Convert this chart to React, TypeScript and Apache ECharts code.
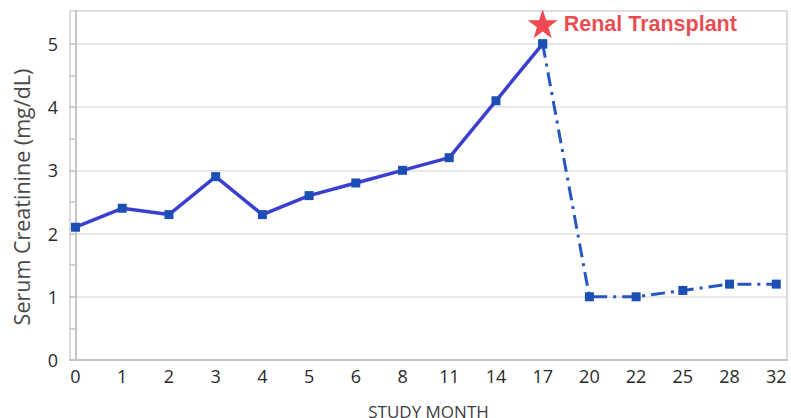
import React, { useEffect, useRef } from "react";
import * as echarts from "echarts";

const months = ["0", "1", "2", "3", "4", "5", "6", "8", "11", "14", "17", "20", "22", "25", "28", "32"];
const creatinine = [2.1, 2.4, 2.3, 2.9, 2.3, 2.6, 2.8, 3.0, 3.2, 4.1, 5.0, 1.0, 1.0, 1.1, 1.2, 1.2];
const transplantIndex = 10; // month 17
const transplantMarkerValue = 5.32;
const transplantLabel = "Renal Transplant";
const yTitle = "Serum Creatinine (mg/dL)";
const xTitle = "STUDY MONTH";
const yLabels = [0, 1, 2, 3, 4, 5];
const yTicks = [0, 0.5, 1, 1.5, 2, 2.5, 3, 3.5, 4, 4.5, 5];

const STAR =
  "path://M50,0 L61.8,35.1 L98.9,35.1 L69,57.3 L79.4,91.9 L50,70.5 L20.6,91.9 L31,57.3 L1.1,35.1 L38.2,35.1 Z";

export default function App() {
  const ref = useRef<HTMLDivElement>(null);
  useEffect(() => {
    if (!ref.current) return;
    const chart = echarts.init(ref.current, undefined, { renderer: "svg" });
    const pts = creatinine.map((v, i) => [i, v]);
    const before = pts.slice(0, transplantIndex + 1);
    const after = pts.slice(transplantIndex);
    const idx = months.map((_, i) => i);
    const font = "'Open Sans', 'Liberation Sans', sans-serif";
    chart.setOption({
      animation: false,
      backgroundColor: "#ffffff",
      grid: {
        left: 70,
        right: 4,
        top: 11,
        bottom: 58,
        containLabel: false,
        outerBoundsMode: "none",
        show: true,
        borderColor: "#cfcfcf",
        borderWidth: 1.5,
      },
      graphic: [
        {
          type: "text",
          x: 21,
          y: 197,
          rotation: Math.PI / 2,
          style: {
            text: yTitle,
            fontFamily: font,
            fontSize: 21.5,
            fill: "#4a4a4a",
            align: "center",
            verticalAlign: "middle",
          },
        },
      ],
      xAxis: {
        type: "value",
        min: -0.118,
        max: 15.23,
        name: xTitle,
        nameLocation: "middle",
        nameGap: 43,
        nameTextStyle: { fontFamily: font, fontSize: 17, color: "#404040" },
        axisLine: { show: true, onZero: false, lineStyle: { color: "#c4c4c4", width: 2 } },
        axisTick: { show: false, customValues: idx },
        splitLine: { show: false },
        axisLabel: {
          customValues: idx,
          formatter: (v: number) => months[Math.round(v)] ?? "",
          fontFamily: font,
          fontSize: 18,
          color: "#2a2a2a",
          margin: 7,
        },
      },
      yAxis: [
        {
          type: "value",
          min: 0,
          max: 5.52,
          axisLine: { show: true, lineStyle: { color: "#c4c4c4", width: 2 } },
          axisTick: { show: true, length: 6, customValues: yTicks, lineStyle: { color: "#c4c4c4", width: 1.5 } },
          splitLine: { show: false },
          axisLabel: {
            customValues: yLabels,
            fontFamily: font,
            fontSize: 18,
            color: "#2a2a2a",
            margin: 12,
          },
          z: 3,
        },
        {
          type: "value",
          min: 0,
          max: 5.52,
          interval: 1,
          position: "left",
          axisLine: { show: false },
          axisTick: { show: false },
          axisLabel: { show: false },
          splitLine: { show: true, lineStyle: { color: "#e0e0e0", width: 1.5 } },
        },
      ],
      series: [
        {
          type: "line",
          data: after,
          symbol: "rect",
          symbolSize: 9,
          itemStyle: { color: "#1c4fb5" },
          lineStyle: { color: "#2556c2", width: 3, type: [14, 6, 3, 6] },
          z: 2,
        },
        {
          type: "line",
          data: before,
          symbol: "rect",
          symbolSize: 9,
          itemStyle: { color: "#1c4fb5" },
          lineStyle: { color: "#3b3fd0", width: 3.5 },
          z: 3,
        },
        {
          type: "scatter",
          clip: false,
          data: [[transplantIndex, transplantMarkerValue]],
          symbol: STAR,
          symbolSize: [30, 29],
          itemStyle: { color: "#ee1c25" },
          label: {
            show: true,
            position: "right",
            distance: 6,
            formatter: transplantLabel,
            fontFamily: "'Liberation Sans', Arial, sans-serif",
            fontWeight: "bold",
            fontSize: 21.5,
            color: "#e31b23",
          },
          z: 4,
        },
      ],
    });
    return () => chart.dispose();
  }, []);
  return <div ref={ref} style={{ width: 791, height: 418, position: "absolute", left: 0, top: 0 }} />;
}
